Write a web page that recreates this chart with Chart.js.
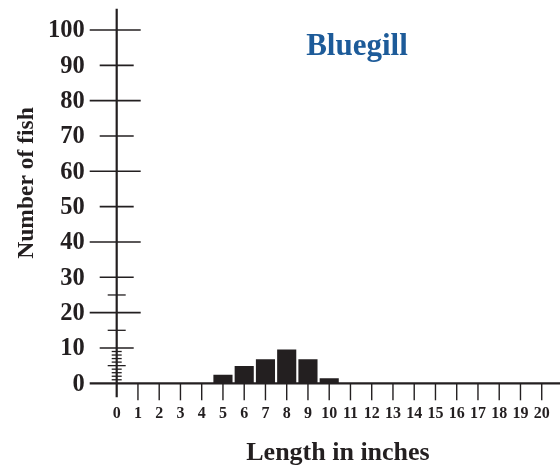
<!DOCTYPE html>
<html>
<head>
<meta charset="utf-8">
<style>
  html, body { margin: 0; padding: 0; background: #fff; }
</style>
</head>
<body>
<canvas id="myChart" width="560" height="465"></canvas>
<script src="https://cdn.jsdelivr.net/npm/chart.js"></script>
<script>
// data
const lengths = [5, 6, 7, 8, 9, 10];
const fishCounts = [2.4, 4.9, 6.8, 9.6, 6.8, 1.4];
const xTickValues = [0, 1, 2, 3, 4, 5, 6, 7, 8, 9, 10, 11, 12, 13, 14, 15, 16, 17, 18, 19, 20];
const xTickLabels = ['0', '1', '2', '3', '4', '5', '6', '7', '8', '9', '10', '11', '12', '13', '14', '15', '16', '17', '18', '19', '20'];
const yTickValues = [0, 10, 20, 30, 40, 50, 60, 70, 80, 90, 100];
const yTickLabels = ['0', '10', '20', '30', '40', '50', '60', '70', '80', '90', '100'];
const yMinorTicks = [1, 2, 3, 4, 5, 6, 7, 8, 9, 15, 25];

const ink = '#231f20';
const serif = '"Liberation Serif", "DejaVu Serif", serif';

// axes are drawn by hand: ticks cross the axis line like in the print
const axesPlugin = {
  id: 'crossAxes',
  afterDatasetsDraw(chart) {
    const { ctx, scales: { x, y } } = chart;
    const x0 = x.getPixelForValue(0);
    const y0 = y.getPixelForValue(0);
    const hline = (xa, xb, yy) => { ctx.beginPath(); ctx.moveTo(xa, yy); ctx.lineTo(xb, yy); ctx.stroke(); };
    const vline = (xx, ya, yb) => { ctx.beginPath(); ctx.moveTo(xx, ya); ctx.lineTo(xx, yb); ctx.stroke(); };

    ctx.save();
    ctx.strokeStyle = ink;
    ctx.fillStyle = ink;

    // main axis lines
    ctx.lineWidth = 2.2;
    hline(x0 - 27, chart.width, y0);
    vline(x0, y.getPixelForValue(106), y0 + 14);

    // y ticks
    ctx.lineWidth = 1.6;
    yTickValues.forEach(v => {
      if (v === 0) return;
      const py = y.getPixelForValue(v);
      if (v % 20 === 0) hline(x0 - 27, x0 + 24, py);
      else hline(x0 - 17, x0 + 17, py);
    });
    ctx.lineWidth = 1.3;
    yMinorTicks.forEach(v => {
      const py = y.getPixelForValue(v);
      const half = v % 5 === 0 ? 9 : 5;
      hline(x0 - half, x0 + half, py);
    });

    // x ticks
    ctx.lineWidth = 1.4;
    xTickValues.forEach(v => {
      if (v === 0) return;
      const px = x.getPixelForValue(v);
      vline(px, y0, y0 + 17);
    });

    // tick labels
    ctx.font = 'bold 24.5px ' + serif;
    ctx.textAlign = 'right';
    ctx.textBaseline = 'middle';
    yTickValues.forEach((v, i) => {
      ctx.fillText(yTickLabels[i], x0 - 32, y.getPixelForValue(v) + 1);
    });

    ctx.font = 'bold 16px ' + serif;
    ctx.textAlign = 'center';
    xTickValues.forEach((v, i) => {
      ctx.fillText(xTickLabels[i], x.getPixelForValue(v), y0 + 31);
    });

    // axis titles
    ctx.textBaseline = 'alphabetic';
    ctx.font = 'bold 26px ' + serif;
    ctx.fillText('Length in inches', 338, 460);

    ctx.save();
    ctx.font = 'bold 23.5px ' + serif;
    ctx.translate(33, 183);
    ctx.rotate(-Math.PI / 2);
    ctx.fillText('Number of fish', 0, 0);
    ctx.restore();

    // chart title
    ctx.font = 'bold 31px ' + serif;
    ctx.fillStyle = '#1d5b99';
    ctx.fillText('Bluegill', 357, 55);

    ctx.restore();
  }
};

const ctx = document.getElementById('myChart').getContext('2d');
new Chart(ctx, {
  type: 'bar',
  data: {
    datasets: [{
      data: lengths.map((l, i) => ({ x: l, y: fishCounts[i] })),
      backgroundColor: ink,
      borderWidth: 0,
      barPercentage: 0.9,
      categoryPercentage: 1
    }]
  },
  options: {
    responsive: false,
    animation: false,
    layout: { padding: { left: 116.7, top: 30, right: 0, bottom: 81.7 } },
    scales: {
      x: { type: 'linear', min: 0, max: 20.86, offset: false, display: false },
      y: { min: 0, max: 100, display: false }
    },
    plugins: {
      legend: { display: false },
      tooltip: { enabled: false }
    }
  },
  plugins: [axesPlugin]
});
</script>
</body>
</html>
